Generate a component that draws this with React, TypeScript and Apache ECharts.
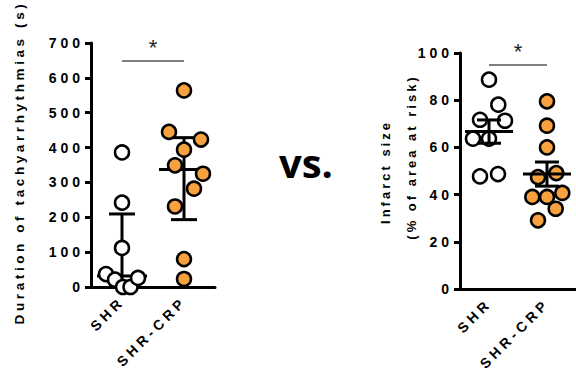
import React, { useEffect, useRef } from "react";
import * as echarts from "echarts";

// ---------- data ----------
const categories = ["SHR", "SHR-CRP"];
const tachyShr = [386, 242, 112, 37, 21, 0, 0, 26];
const tachyCrp = [564, 445, 423, 394, 349, 325, 282, 231, 80, 23];
const infarctShr = [88.7, 78.1, 71.7, 71.3, 63.7, 63.7, 47.7, 48.7];
const infarctCrp = [79.5, 69.2, 60, 47.4, 49.1, 39, 39, 40.7, 34, 29.1];

const tachyAxis = { min: 0, max: 700, interval: 100 };
const infarctAxis = { min: 0, max: 100, interval: 20 };
const tachySigLevel = 650;
const infarctSigLevel = 95;

const tachyTitle = "Duration of tachyarrhythmias (s)";
const infarctTitle1 = "Infarct size";
const infarctTitle2 = "(% of area at risk)";
const vsText = "vs.";
const sigMark = "*";

// horizontal jitter of the dots (px)
const jitTachyShr = [0, 0, 0, -16, -7, 1, 8.5, 16];
const jitTachyCrp = [0, -15, 17, 0, -9, 19, 10, -9, 0, 0];
const jitInfShr = [0, 9.3, -9, 16, -16, 0, -9, 9];
const jitInfCrp = [0, 0, 0, -9, 9.3, -14.7, 0, 15.3, 8.7, -9];

// ---------- stats ----------
const sortAsc = (a: number[]) => [...a].sort((x, y) => x - y);
function prismQuantile(arr: number[], p: number) {
  const s = sortAsc(arr);
  const n = s.length;
  const pos = (n + 1) * p;
  if (pos <= 1) return s[0];
  if (pos >= n) return s[n - 1];
  const lo = Math.floor(pos);
  const f = pos - lo;
  return s[lo - 1] + f * (s[lo] - s[lo - 1]);
}
const mean = (a: number[]) => a.reduce((s, v) => s + v, 0) / a.length;
const sem = (a: number[]) => {
  const m = mean(a);
  const v = a.reduce((s, x) => s + (x - m) ** 2, 0) / (a.length - 1);
  return Math.sqrt(v / a.length);
};
const medIqr = (a: number[], i: number) => [i, prismQuantile(a, 0.5), prismQuantile(a, 0.25), prismQuantile(a, 0.75)];
const meanSem = (a: number[], i: number) => [i, mean(a), mean(a) - sem(a), mean(a) + sem(a)];

const FONT = "Liberation Sans";
const ORANGE = "#F7A13F";

const makeRenderItem = (capHalf: number, centerHalf: number) => (params: any, api: any) => {
  const x = api.value(0);
  const c = api.coord([x, api.value(1)]);
  const lo = api.coord([x, api.value(2)]);
  const hi = api.coord([x, api.value(3)]);
  const st = { stroke: "#000", lineWidth: 3 };
  return {
    type: "group",
    children: [
      { type: "line", shape: { x1: c[0], y1: lo[1], x2: c[0], y2: hi[1] }, style: st },
      { type: "line", shape: { x1: c[0] - capHalf, y1: hi[1], x2: c[0] + capHalf, y2: hi[1] }, style: st },
      { type: "line", shape: { x1: c[0] - capHalf, y1: lo[1], x2: c[0] + capHalf, y2: lo[1] }, style: st },
      { type: "line", shape: { x1: c[0] - centerHalf, y1: c[1], x2: c[0] + centerHalf, y2: c[1] }, style: st },
    ],
  };
};

const dots = (vals: number[], jit: number[], cat: number) =>
  vals.map((v, i) => ({ value: [cat, v], symbolOffset: [jit[i], 0] }));

const xAxisBase = (gridIndex: number) => ({
  gridIndex,
  type: "category",
  data: categories,
  boundaryGap: true,
  axisLine: { lineStyle: { color: "#000", width: 3 } },
  axisTick: { show: false },
  axisLabel: { rotate: 45, margin: 12, color: "#000", fontSize: 14, fontWeight: "bold", fontFamily: FONT, interval: 0 },
  splitLine: { show: false },
});
const yAxisBase = (gridIndex: number, r: any) => ({
  gridIndex,
  type: "value",
  min: r.min,
  max: r.max,
  interval: r.interval,
  axisLine: { show: true, lineStyle: { color: "#000", width: 3 } },
  axisTick: { show: true, length: 6, lineStyle: { color: "#000", width: 3 } },
  axisLabel: { margin: 7, color: "#000", fontSize: 14, fontWeight: "bold", fontFamily: FONT },
  splitLine: { show: false },
});

const sigLine = (level: number) => ({
  silent: true,
  symbol: ["none", "none"],
  lineStyle: { color: "#555", width: 1.5, type: "solid" },
  label: {
    show: true,
    position: "middle",
    formatter: sigMark,
    fontSize: 22,
    fontFamily: FONT,
    color: "#222",
    distance: 2,
  },
  data: [[{ coord: [0, level] }, { coord: [1, level] }]],
});

const dotStyle = (fill: string) => ({ color: fill, borderColor: "#000", borderWidth: 2.5, opacity: 1 });

export default function App() {
  const ref = useRef<HTMLDivElement>(null);
  useEffect(() => {
    document.body.style.margin = "0";
    const chart = echarts.init(ref.current!, null, { renderer: "svg" });
    const option: any = {
      animation: false,
      backgroundColor: "#fff",
      grid: [
        { left: 91, top: 43, width: 124, height: 244 },
        { left: 460, top: 53, width: 118, height: 236 },
      ],
      xAxis: [xAxisBase(0), xAxisBase(1)],
      yAxis: [yAxisBase(0, tachyAxis), yAxisBase(1, infarctAxis)],
      series: [
        {
          type: "custom",
          xAxisIndex: 0,
          yAxisIndex: 0,
          z: 2,
          renderItem: makeRenderItem(13, 25),
          encode: { x: 0, y: [1, 2, 3] },
          data: [medIqr(tachyShr, 0), medIqr(tachyCrp, 1)],
        },
        {
          type: "scatter",
          xAxisIndex: 0,
          yAxisIndex: 0,
          z: 3,
          symbolSize: 14,
          itemStyle: dotStyle("#fff"),
          data: dots(tachyShr, jitTachyShr, 0),
          markLine: sigLine(tachySigLevel),
        },
        {
          type: "scatter",
          xAxisIndex: 0,
          yAxisIndex: 0,
          z: 3,
          symbolSize: 14,
          itemStyle: dotStyle(ORANGE),
          data: dots(tachyCrp, jitTachyCrp, 1),
        },
        {
          type: "scatter",
          xAxisIndex: 1,
          yAxisIndex: 1,
          z: 3,
          symbolSize: 14,
          itemStyle: dotStyle("#fff"),
          data: dots(infarctShr, jitInfShr, 0),
          markLine: sigLine(infarctSigLevel),
        },
        {
          type: "scatter",
          xAxisIndex: 1,
          yAxisIndex: 1,
          z: 3,
          symbolSize: 14,
          itemStyle: dotStyle(ORANGE),
          data: dots(infarctCrp, jitInfCrp, 1),
        },
        {
          type: "custom",
          xAxisIndex: 1,
          yAxisIndex: 1,
          z: 4,
          renderItem: makeRenderItem(12, 24),
          encode: { x: 0, y: [1, 2, 3] },
          data: [meanSem(infarctShr, 0), meanSem(infarctCrp, 1)],
        },
      ],
      graphic: [
        {
          type: "text",
          x: 19,
          y: 162.5,
          rotation: Math.PI / 2,
          style: { text: tachyTitle, fontSize: 13.5, fontWeight: "bold", fontFamily: FONT, fill: "#000", align: "center", verticalAlign: "middle" },
        },
        {
          type: "text",
          x: 385,
          y: 172,
          rotation: Math.PI / 2,
          style: { text: infarctTitle1, fontSize: 13, fontWeight: "bold", fontFamily: FONT, fill: "#000", align: "center", verticalAlign: "middle" },
        },
        {
          type: "text",
          x: 411,
          y: 157,
          rotation: Math.PI / 2,
          style: { text: infarctTitle2, fontSize: 13, fontWeight: "bold", fontFamily: FONT, fill: "#000", align: "center", verticalAlign: "middle" },
        },
        {
          type: "text",
          x: 306,
          y: 162,
          style: { text: vsText, fontSize: 40, fontWeight: "bold", fontFamily: "Open Sans", fill: "#000", align: "center", verticalAlign: "middle" },
        },
      ],
    };
    chart.setOption(option);
    return () => chart.dispose();
  }, []);
  return (
    <>
      <style>{`
        .chart-root text { letter-spacing: 3px; }
        .chart-root text[style*="14px"] { letter-spacing: 4px; }
        .chart-root text[style*="13.5px"] { letter-spacing: 3.6px; }
        .chart-root text[style*="40px"], .chart-root text[style*="22px"] { letter-spacing: 0; }
      `}</style>
      <div
        ref={ref}
        className="chart-root"
        style={{ position: "fixed", left: 0, top: 0, width: 576, height: 381, background: "#fff" }}
      />
    </>
  );
}
